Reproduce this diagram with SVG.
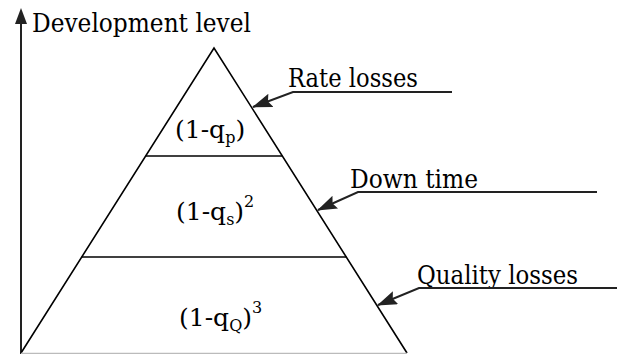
<svg xmlns="http://www.w3.org/2000/svg" width="617" height="354" viewBox="0 0 617 354">
<style>
  text { font-family: 'DejaVu Serif', serif; fill: #000; }
  .lbl { font-size: 26px; }
  .frm { font-size: 25px; }
  .sub { font-size: 16px; }
  .ln { stroke: #000; stroke-width: 1.6; fill: none; }
  .ld { stroke: #222; stroke-width: 2; fill: none; }
</style>
<defs>
  <marker id="ah" viewBox="0 0 20 14" refX="19" refY="7" markerWidth="20" markerHeight="14" markerUnits="userSpaceOnUse" orient="auto">
    <path d="M0,0 L20,7 L0,14 L3,7 z" fill="#222"/>
  </marker>
</defs>
<rect width="617" height="354" fill="#fff"/>
<g id="axis">
  <line class="ld" x1="21" y1="354" x2="21" y2="20"/>
  <path d="M21,8 L27,24 L15,24 z" fill="#222"/>
  <text class="lbl" x="32" y="32" textLength="219" lengthAdjust="spacingAndGlyphs">Development level</text>
</g>
<g id="pyramid">
  <path class="ln" d="M21,353 L214,48 L407,353"/>
  <line x1="21" y1="353.5" x2="407" y2="353.5" stroke="#bbb" stroke-width="1.5"/>
  <line class="ln" x1="145.7" y1="156" x2="282.3" y2="156"/>
  <line class="ln" x1="81.7" y1="257" x2="346.3" y2="257"/>
</g>
<g id="level1">
  <text class="frm" x="175" y="138">(1-q<tspan class="sub" dy="5">p</tspan><tspan dy="-5">)</tspan></text>
</g>
<g id="level2">
  <text class="frm" x="176" y="220">(1-q<tspan class="sub" dy="5">s</tspan><tspan dy="-5">)</tspan><tspan class="sub" dy="-13">2</tspan></text>
</g>
<g id="level3">
  <text class="frm" x="179" y="326">(1-q<tspan class="sub" dy="5">Q</tspan><tspan dy="-5">)</tspan><tspan class="sub" dy="-13">3</tspan></text>
</g>
<g id="rate-losses">
  <text class="lbl" x="288" y="87" textLength="130" lengthAdjust="spacingAndGlyphs">Rate losses</text>
</g>
<g id="down-time">
  <text class="lbl" x="350" y="188" textLength="128" lengthAdjust="spacingAndGlyphs">Down time</text>
</g>
<g id="quality-losses">
  <text class="lbl" x="417" y="284" textLength="161" lengthAdjust="spacingAndGlyphs">Quality losses</text>
</g>
<g id="connectors">
  <polyline class="ld" points="452,92 293,92 253,107" marker-end="url(#ah)"/>
  <polyline class="ld" points="597,192 358,192 318,210" marker-end="url(#ah)"/>
  <polyline class="ld" points="617,288 419,288 378,305" marker-end="url(#ah)"/>
</g>
</svg>
